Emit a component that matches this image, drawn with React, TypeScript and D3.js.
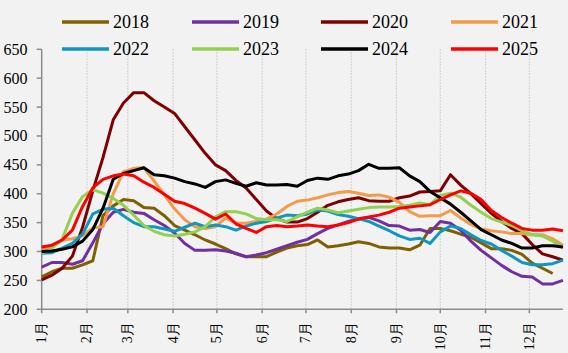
import React from 'react';
import * as d3 from 'd3';

const years = ['2018', '2019', '2020', '2021', '2022', '2023', '2024', '2025'];
const colors = ['#7f6000', '#7030a0', '#7f0000', '#f39a4b', '#1097c0', '#92d050', '#000000', '#ff0000'];

const monthLabels = ['1月', '2月', '3月', '4月', '5月', '6月', '7月', '8月', '9月', '10月', '11月', '12月'];
const monthStartDays = [0, 31, 59, 90, 120, 151, 181, 212, 243, 273, 304, 334];
const yTicks = [200, 250, 300, 350, 400, 450, 500, 550, 600, 650];

// weekly values
const s2018 = [256, 265, 271, 271, 277, 284, 362, 379, 390, 388, 376, 375, 362, 345, 337, 329, 320, 313, 305, 296, 291, 291, 291, 299, 306, 310, 312, 320, 308, 310, 313, 317, 314, 308, 306, 306, 303, 311, 340, 340, 336, 330, 325, 315, 305, 305, 302, 295, 280, 271, 262];
const s2019 = [273, 281, 281, 278, 284, 315, 348, 368, 373, 368, 366, 355, 345, 332, 314, 302, 302, 303, 301, 297, 291, 294, 298, 304, 310, 316, 321, 331, 340, 346, 352, 357, 359, 353, 345, 344, 337, 338, 333, 352, 349, 337, 318, 302, 289, 276, 265, 257, 256, 244, 244, 250];
const s2020 = [251, 259, 271, 292, 342, 405, 463, 528, 557, 575, 575, 561, 550, 539, 516, 493, 470, 450, 440, 423, 410, 390, 370, 357, 351, 351, 357, 368, 380, 386, 390, 393, 388, 387, 387, 393, 396, 403, 404, 405, 433, 415, 400, 383, 366, 352, 340, 331, 312, 296, 291, 285];
const s2021 = [303, 308, 320, 322, 327, 341, 343, 400, 438, 444, 445, 422, 398, 374, 355, 343, 340, 343, 358, 349, 349, 352, 356, 365, 378, 387, 389, 393, 398, 402, 404, 401, 397, 398, 394, 385, 369, 361, 362, 362, 371, 358, 347, 339, 336, 334, 331, 331, 329, 329, 322, 311];
const s2022 = [297, 298, 306, 314, 330, 365, 373, 375, 362, 350, 343, 343, 339, 335, 342, 349, 343, 346, 343, 337, 344, 349, 352, 358, 363, 362, 365, 372, 370, 364, 361, 357, 352, 344, 336, 327, 321, 323, 314, 334, 344, 340, 329, 319, 313, 302, 292, 281, 277, 277, 279, 285];
const s2023 = [297, 306, 321, 366, 395, 407, 401, 392, 380, 363, 345, 335, 329, 327, 330, 334, 343, 360, 369, 369, 365, 357, 355, 355, 352, 360, 368, 375, 372, 367, 370, 373, 376, 377, 377, 378, 380, 384, 381, 397, 401, 394, 380, 368, 357, 351, 345, 336, 329, 327, 318, 306];
const s2024 = [300, 301, 304, 308, 318, 338, 375, 425, 435, 440, 445, 433, 431, 427, 421, 417, 411, 421, 424, 418, 413, 419, 415, 415, 416, 413, 423, 427, 425, 431, 434, 440, 451, 444, 444, 445, 431, 421, 404, 393, 382, 368, 353, 338, 329, 320, 314, 306, 306, 310, 310, 308];
const s2025 = [308, 311, 320, 337, 378, 410, 425, 431, 434, 431, 420, 411, 399, 387, 383, 375, 366, 356, 365, 348, 340, 333, 343, 345, 343, 344, 346, 344, 343, 346, 350, 356, 360, 363, 368, 375, 377, 379, 381, 390, 398, 405, 401, 390, 371, 359, 349, 340, 337, 337, 339, 336];

const series = [s2018, s2019, s2020, s2021, s2022, s2023, s2024, s2025];

const W = 568;
const H = 353;
const margin = { top: 49.3, right: 5.1, bottom: 43.7, left: 41.7 };
const font = '"Times New Roman", "Liberation Serif", serif';

export default function App() {
  const x = d3.scaleLinear().domain([0, 51]).range([margin.left, W - margin.right]);
  const y = d3.scaleLinear().domain([200, 650]).range([H - margin.bottom, margin.top]);
  const line = d3.line<number>().x((_, i) => x(i)).y(d => y(d));
  const monthX = monthStartDays.map(d => x(d / 7));
  const y0 = y(200);

  // legend layout: 2 rows x 4 columns
  const legendCols = [62, 192, 321, 451];
  const legendRows = [22, 49];

  return (
    <svg
      width={W}
      height={H}
      style={{ position: 'fixed', left: 0, top: 0, background: '#f2f2f2', fontFamily: font }}
    >
      {/* vertical dotted grid */}
      {monthX.slice(1).map((mx, i) => (
        <line key={'g' + i} x1={mx} x2={mx} y1={y(650)} y2={y0} stroke="#c4c4c4" strokeWidth={1} strokeDasharray="1.5,1.5" />
      ))}

      {/* y axis */}
      <line x1={margin.left} x2={margin.left} y1={y(650)} y2={y0} stroke="#8c8c8c" strokeWidth={1.5} />
      {yTicks.map(t => (
        <g key={'y' + t}>
          <line x1={margin.left - 5} x2={margin.left} y1={y(t)} y2={y(t)} stroke="#8c8c8c" strokeWidth={1.5} />
          <text x={27.5} y={y(t)} textAnchor="end" dominantBaseline="central" fontSize={16} fill="#000">
            {t}
          </text>
        </g>
      ))}

      {/* x axis */}
      <line x1={margin.left} x2={W - margin.right} y1={y0} y2={y0} stroke="#8c8c8c" strokeWidth={1.5} />
      {monthX.map((mx, i) => (
        <g key={'m' + i}>
          <line x1={mx} x2={mx} y1={y0} y2={y0 + 4} stroke="#8c8c8c" strokeWidth={1.5} />
          <text
            transform={`translate(${mx},${y0 + 13}) rotate(-90)`}
            textAnchor="end"
            dominantBaseline="central"
            fontSize={14}
            fill="#000"
          >
            {monthLabels[i]}
          </text>
        </g>
      ))}

      {/* series */}
      {series.map((s, i) => (
        <path key={years[i]} d={line(s) || ''} fill="none" stroke={colors[i]} strokeWidth={3} strokeLinejoin="round" />
      ))}

      {/* legend */}
      {years.map((yr, i) => {
        const lx = legendCols[i % 4];
        const ly = legendRows[Math.floor(i / 4)];
        return (
          <g key={'l' + yr}>
            <line x1={lx} x2={lx + 47} y1={ly} y2={ly} stroke={colors[i]} strokeWidth={3.5} />
            <text x={lx + 51} y={ly} dominantBaseline="central" fontSize={18} fill="#000">
              {yr}
            </text>
          </g>
        );
      })}
    </svg>
  );
}
